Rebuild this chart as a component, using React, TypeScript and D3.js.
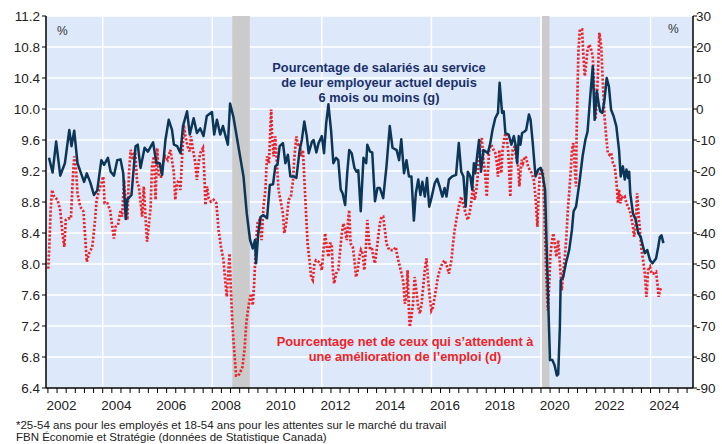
import React from "react";
import * as d3 from "d3";

// axis ticks / labels
const leftTicks = [6.4, 6.8, 7.2, 7.6, 8.0, 8.4, 8.8, 9.2, 9.6, 10.0, 10.4, 10.8, 11.2];
const rightTicks = [-90, -80, -70, -60, -50, -40, -30, -20, -10, 0, 10, 20, 30];
const yearLabels = [2002, 2004, 2006, 2008, 2010, 2012, 2014, 2016, 2018, 2020, 2022, 2024];
const gridYears = [2004, 2008, 2012, 2016, 2020, 2024];
const recessions: [number, number][] = [[2008.73, 2009.37], [2020.04, 2020.31]];

// % salariés au service de leur employeur depuis 6 mois ou moins (axe de gauche)
const tenure: [number, number][] = [
  [2002.04, 9.37], [2002.17, 9.18], [2002.3, 9.58], [2002.45, 9.14], [2002.62, 9.3], [2002.78, 9.73],
  [2002.86, 9.52], [2002.96, 9.72], [2003.08, 9.3], [2003.2, 9.18], [2003.32, 9.06], [2003.42, 9.17],
  [2003.55, 9.05], [2003.68, 8.89], [2003.8, 8.95], [2003.95, 9.34], [2004.05, 9.28], [2004.19, 9.37],
  [2004.29, 9.19], [2004.41, 9.14], [2004.53, 9.34], [2004.65, 9.35], [2004.75, 9.17], [2004.84, 8.58],
  [2004.9, 8.83], [2005.05, 8.89], [2005.2, 9.52], [2005.28, 9.54], [2005.38, 9.24], [2005.53, 9.5],
  [2005.65, 9.45], [2005.84, 9.57], [2005.96, 9.3], [2006.08, 9.3], [2006.17, 9.15], [2006.29, 9.6],
  [2006.41, 9.86], [2006.53, 9.73], [2006.6, 9.54], [2006.72, 9.52], [2006.84, 9.43], [2006.93, 9.78],
  [2007.08, 9.97], [2007.18, 9.67], [2007.32, 9.88], [2007.44, 9.69], [2007.56, 9.75], [2007.68, 9.65],
  [2007.8, 9.91], [2007.99, 9.96], [2008.07, 9.67], [2008.17, 9.86], [2008.29, 9.67], [2008.39, 9.78],
  [2008.47, 9.67], [2008.57, 9.54], [2008.65, 10.07], [2008.77, 9.9], [2009.14, 9.13], [2009.26, 8.65],
  [2009.38, 8.31], [2009.48, 8.2], [2009.56, 8.31], [2009.6, 8.01], [2009.68, 8.4], [2009.77, 8.61],
  [2009.87, 8.63], [2010.0, 8.59], [2010.1, 9.02], [2010.22, 9.03], [2010.3, 9.26], [2010.38, 9.28],
  [2010.46, 9.52], [2010.58, 9.56], [2010.67, 9.3], [2010.76, 9.41], [2010.85, 9.13], [2010.97, 9.13],
  [2011.07, 9.11], [2011.19, 9.47], [2011.27, 9.6], [2011.36, 9.84], [2011.45, 9.65], [2011.52, 9.43],
  [2011.64, 9.58], [2011.7, 9.6], [2011.8, 9.44], [2011.88, 9.56], [2012.0, 9.65], [2012.08, 9.43],
  [2012.16, 9.82], [2012.24, 10.06], [2012.34, 9.71], [2012.42, 9.3], [2012.52, 9.37], [2012.6, 9.34],
  [2012.69, 8.96], [2012.76, 8.91], [2012.85, 8.76], [2012.93, 9.19], [2013.0, 9.47], [2013.09, 9.43],
  [2013.19, 9.24], [2013.27, 9.19], [2013.33, 9.21], [2013.42, 8.68], [2013.52, 9.37], [2013.62, 9.3],
  [2013.66, 9.54], [2013.76, 9.45], [2013.84, 9.44], [2013.94, 8.81], [2014.03, 8.98], [2014.12, 8.98],
  [2014.24, 8.85], [2014.36, 9.26], [2014.48, 9.78], [2014.58, 9.5], [2014.73, 9.47], [2014.82, 9.34],
  [2014.9, 9.61], [2015.0, 9.17], [2015.09, 9.34], [2015.18, 9.13], [2015.27, 9.13], [2015.36, 8.56],
  [2015.43, 8.91], [2015.52, 9.09], [2015.6, 8.89], [2015.67, 9.06], [2015.76, 8.87], [2015.84, 9.11],
  [2015.92, 8.74], [2016.0, 8.85], [2016.12, 9.04], [2016.21, 9.1], [2016.3, 9.0], [2016.4, 8.87],
  [2016.48, 8.98], [2016.55, 8.87], [2016.64, 9.09], [2016.76, 9.13], [2016.9, 9.15], [2017.0, 9.56],
  [2017.09, 9.19], [2017.17, 9.13], [2017.25, 8.74], [2017.33, 9.19], [2017.42, 9.13], [2017.49, 8.96],
  [2017.55, 9.3], [2017.6, 9.17], [2017.68, 9.43], [2017.74, 9.6], [2017.81, 9.19], [2017.9, 9.47],
  [2017.99, 9.45], [2018.06, 9.43], [2018.15, 9.56], [2018.23, 9.73], [2018.33, 9.88], [2018.43, 9.95],
  [2018.49, 10.34], [2018.58, 9.95], [2018.64, 9.97], [2018.7, 9.69], [2018.82, 9.67], [2018.92, 9.54],
  [2019.01, 9.65], [2019.07, 9.54], [2019.13, 9.3], [2019.19, 9.65], [2019.25, 9.54], [2019.31, 9.69],
  [2019.4, 9.71], [2019.46, 9.73], [2019.56, 9.93], [2019.62, 9.86], [2019.7, 9.56], [2019.8, 9.13],
  [2019.9, 9.22], [2019.99, 9.24], [2020.05, 9.17], [2020.15, 8.96], [2020.21, 8.18], [2020.27, 7.45],
  [2020.33, 6.76], [2020.42, 6.76], [2020.5, 6.69], [2020.58, 6.56], [2020.63, 6.58], [2020.69, 7.19],
  [2020.72, 7.79], [2020.81, 7.83], [2020.91, 8.01], [2021.03, 8.18], [2021.13, 8.44], [2021.19, 8.68],
  [2021.28, 8.74], [2021.4, 9.04], [2021.52, 9.39], [2021.62, 9.6], [2021.7, 9.71], [2021.79, 10.12],
  [2021.89, 10.55], [2021.96, 9.86], [2022.04, 10.23], [2022.11, 10.06], [2022.16, 9.97], [2022.24, 9.95],
  [2022.32, 10.12], [2022.4, 10.4], [2022.48, 10.29], [2022.56, 9.99], [2022.65, 9.91], [2022.75, 9.78],
  [2022.85, 9.47], [2022.91, 9.13], [2022.99, 9.26], [2023.06, 9.09], [2023.12, 9.22], [2023.18, 9.11],
  [2023.22, 9.19], [2023.26, 8.91], [2023.36, 8.65], [2023.46, 8.57], [2023.55, 8.4], [2023.64, 8.35],
  [2023.73, 8.22], [2023.79, 8.14], [2023.88, 8.18], [2023.98, 8.05], [2024.07, 8.01], [2024.2, 8.07],
  [2024.28, 8.22], [2024.34, 8.35], [2024.4, 8.37], [2024.47, 8.27],
];

// % net qui s'attendent à une amélioration de l'emploi (axe de droite)
const outlook: [number, number][] = [
  [2002.01, -51.5], [2002.05, -44.5], [2002.1, -32.6], [2002.15, -26.1], [2002.23, -28.3], [2002.35, -29.3],
  [2002.45, -32.6], [2002.53, -40.1], [2002.6, -44.5], [2002.65, -35.8], [2002.74, -35.3], [2002.84, -35.3],
  [2002.9, -24], [2002.96, -15.3], [2003.02, -18.6], [2003.08, -27.2], [2003.18, -31.5], [2003.3, -33.1],
  [2003.35, -40.1], [2003.42, -49.3], [2003.5, -46.6], [2003.62, -44.5], [2003.71, -36.9], [2003.78, -29.3],
  [2003.87, -26.1], [2003.95, -24], [2004.02, -21.8], [2004.07, -30.4], [2004.17, -30.4], [2004.27, -32.6],
  [2004.35, -38], [2004.41, -41.8], [2004.47, -38], [2004.56, -37.4], [2004.65, -32.6], [2004.71, -34.7],
  [2004.78, -22.9], [2004.84, -30.4], [2004.9, -35.8], [2004.96, -20.7], [2005.02, -13.2], [2005.11, -16.4],
  [2005.18, -13.2], [2005.26, -24], [2005.32, -25], [2005.38, -29.9], [2005.44, -34.7], [2005.5, -25],
  [2005.56, -34.7], [2005.62, -42.8], [2005.68, -38], [2005.75, -31.5], [2005.8, -18.6], [2005.87, -15.3],
  [2005.93, -29.3], [2005.99, -12.6], [2006.05, -21.8], [2006.13, -21.8], [2006.2, -17.5], [2006.28, -15.3],
  [2006.37, -16.4], [2006.47, -13.2], [2006.53, -16.4], [2006.6, -20.7], [2006.65, -29.3], [2006.71, -24],
  [2006.78, -22.9], [2006.84, -26.1], [2006.9, -15.3], [2006.96, -5.1], [2007.02, -8.8], [2007.1, -12.1],
  [2007.18, -13.7], [2007.22, -8.8], [2007.3, -13.2], [2007.38, -17.5], [2007.44, -22.9], [2007.5, -17.5],
  [2007.56, -14.2], [2007.66, -12.6], [2007.71, -20.7], [2007.75, -31], [2007.81, -25], [2007.87, -28.8],
  [2007.95, -29.9], [2008.05, -29.3], [2008.15, -30.4], [2008.23, -39], [2008.32, -44.5], [2008.41, -48.8],
  [2008.47, -55.2], [2008.53, -60.6], [2008.59, -52], [2008.63, -46.6], [2008.68, -58.5], [2008.74, -70.3],
  [2008.8, -77.9], [2008.87, -86], [2008.96, -86], [2009.02, -84.9], [2009.1, -83.3], [2009.18, -77.4],
  [2009.24, -69.3], [2009.3, -65], [2009.36, -61.7], [2009.41, -59.6], [2009.48, -63.3], [2009.53, -56.3],
  [2009.59, -44.5], [2009.65, -36.9], [2009.72, -35.8], [2009.8, -42.3], [2009.87, -31.5], [2009.94, -26.1],
  [2010.0, -15.3], [2010.07, -17.5], [2010.15, -0.2], [2010.18, -7.8], [2010.24, -15.3], [2010.3, -8.8],
  [2010.36, -17.5], [2010.42, -26.1], [2010.51, -30.4], [2010.58, -33.7], [2010.63, -40.1], [2010.7, -36.9],
  [2010.79, -29.3], [2010.87, -28.3], [2010.95, -22.9], [2011.0, -15.3], [2011.07, -8.8], [2011.13, -12.1],
  [2011.19, -11], [2011.25, -15.3], [2011.31, -13.2], [2011.37, -24], [2011.43, -34.7], [2011.48, -43.4],
  [2011.55, -48.8], [2011.61, -54.2], [2011.67, -55.2], [2011.73, -49.8], [2011.79, -48.8], [2011.88, -49.3],
  [2011.94, -49.8], [2012.0, -52], [2012.06, -45.5], [2012.12, -40.1], [2012.18, -44.5], [2012.24, -47.7],
  [2012.3, -43.4], [2012.36, -43.4], [2012.4, -52], [2012.45, -56.3], [2012.52, -53.1], [2012.6, -52],
  [2012.67, -45.5], [2012.73, -40.1], [2012.79, -36.9], [2012.85, -39], [2012.91, -42.3], [2012.97, -34.7],
  [2013.0, -32.6], [2013.05, -43.4], [2013.13, -44.5], [2013.19, -48.8], [2013.25, -54.2], [2013.31, -52],
  [2013.37, -47.7], [2013.43, -45.5], [2013.49, -46.6], [2013.55, -52], [2013.61, -44.5], [2013.66, -35.8],
  [2013.71, -41.2], [2013.76, -45.5], [2013.82, -44.5], [2013.88, -47.7], [2013.94, -49.8], [2014.0, -45.5],
  [2014.06, -41.2], [2014.12, -36.9], [2014.18, -34.7], [2014.24, -34.7], [2014.3, -39], [2014.36, -43.4],
  [2014.46, -45.5], [2014.55, -45.5], [2014.63, -45.5], [2014.7, -44.5], [2014.76, -47.7], [2014.82, -49.8],
  [2014.88, -52], [2014.94, -54.2], [2014.98, -56.3], [2015.03, -62.8], [2015.09, -60.6], [2015.13, -52],
  [2015.18, -65], [2015.21, -70.3], [2015.27, -67.1], [2015.33, -62.8], [2015.39, -54.2], [2015.45, -58.5],
  [2015.52, -63.9], [2015.58, -66], [2015.64, -62.8], [2015.7, -57.4], [2015.76, -52], [2015.82, -48.2],
  [2015.88, -55.2], [2015.94, -60.6], [2016.0, -65], [2016.06, -63.9], [2016.16, -58.5], [2016.24, -54.2],
  [2016.3, -52], [2016.4, -49.8], [2016.48, -48.8], [2016.57, -50.9], [2016.64, -53.1], [2016.73, -48.8],
  [2016.79, -43.4], [2016.85, -39], [2016.93, -34.7], [2017.0, -31.5], [2017.09, -28.3], [2017.17, -31],
  [2017.25, -33.7], [2017.33, -35.8], [2017.39, -33.7], [2017.45, -30.4], [2017.52, -25], [2017.58, -29.3],
  [2017.64, -26.1], [2017.7, -20.7], [2017.72, -17.5], [2017.78, -11], [2017.84, -9.4], [2017.9, -16.4],
  [2017.96, -20.7], [2018.02, -28.3], [2018.06, -20.7], [2018.11, -13.2], [2018.18, -11.5], [2018.27, -13.2],
  [2018.33, -14.2], [2018.39, -17.5], [2018.43, -21.8], [2018.48, -13.2], [2018.55, -20.7], [2018.6, -13.2],
  [2018.67, -8.8], [2018.72, -7.8], [2018.8, -13.2], [2018.85, -21.8], [2018.88, -28.3], [2018.92, -17.5],
  [2018.97, -13.2], [2019.04, -12.1], [2019.09, -15.3], [2019.17, -18.6], [2019.21, -25], [2019.29, -16.4],
  [2019.34, -17.5], [2019.41, -15.3], [2019.46, -15.8], [2019.53, -18.6], [2019.59, -19.6], [2019.66, -20.7],
  [2019.74, -22.9], [2019.8, -28.3], [2019.87, -38], [2019.9, -30.4], [2019.96, -20.7], [2020.02, -19.1],
  [2020.07, -20.7], [2020.11, -28.3], [2020.15, -41.2], [2020.2, -55.2], [2020.25, -65], [2020.29, -58.5],
  [2020.34, -47.7], [2020.39, -43.4], [2020.45, -40.1], [2020.52, -44.5], [2020.56, -47.7], [2020.63, -42.3],
  [2020.69, -49.8], [2020.76, -58.5], [2020.81, -53.1], [2020.87, -47.7], [2020.93, -41.2], [2020.98, -32.6],
  [2021.03, -27.2], [2021.08, -20.7], [2021.13, -13.2], [2021.18, -11], [2021.23, -18.6], [2021.28, -25],
  [2021.3, -8.8], [2021.34, 8.4], [2021.37, 19.2], [2021.42, 25.7], [2021.5, 25.7], [2021.55, 17.1],
  [2021.6, 10.6], [2021.64, 13.8], [2021.7, 19.2], [2021.77, 20.8], [2021.83, 19.2], [2021.89, 17.1],
  [2021.95, 5.2], [2021.99, -3.4], [2022.04, 3], [2022.09, 13.8], [2022.13, 24.6], [2022.2, 20.3],
  [2022.26, 8.4], [2022.32, -2.4], [2022.38, -8.8], [2022.44, -14.2], [2022.5, -14.8], [2022.56, -14.2],
  [2022.63, -17.5], [2022.69, -18.6], [2022.75, -22.9], [2022.81, -30.4], [2022.85, -26.1], [2022.9, -30.4],
  [2022.94, -28.3], [2023.0, -28.8], [2023.06, -28.3], [2023.12, -30.4], [2023.18, -31.5], [2023.24, -32.6],
  [2023.29, -34.7], [2023.36, -38], [2023.4, -41.2], [2023.46, -36.9], [2023.51, -27.2], [2023.56, -33.7],
  [2023.61, -39], [2023.67, -45.5], [2023.73, -48.8], [2023.79, -53.1], [2023.85, -60.6], [2023.91, -52],
  [2023.98, -50.9], [2024.04, -53.1], [2024.1, -53.1], [2024.2, -52.5], [2024.25, -56.3], [2024.3, -60.6],
  [2024.34, -58.5], [2024.42, -57.4],
];

const W = 722;
const H = 444;
const margin = { top: 16, right: 29, bottom: 56, left: 46 };
const font = "'Liberation Sans', Arial, sans-serif";
const NAVY = "#0c3658";
const RED = "#ee2229";

export default function App() {
  const x = d3.scaleLinear().domain([2001.93, 2025.55]).range([margin.left, W - margin.right]);
  const yL = d3.scaleLinear().domain([6.4, 11.2]).range([H - margin.bottom, margin.top]);
  const yR = d3.scaleLinear().domain([-90, 30]).range([H - margin.bottom, margin.top]);

  const lineL = d3.line<[number, number]>().x(d => x(d[0])).y(d => yL(d[1]));
  const lineR = d3.line<[number, number]>().x(d => x(d[0])).y(d => yR(d[1]));

  const x0 = margin.left, x1 = W - margin.right;
  const y0 = margin.top, y1 = H - margin.bottom;
  // petites graduations tous les 4 mois
  const minorTicks = d3.range(2002, 2025.5, 1 / 3);

  return (
    <svg width={W} height={H} style={{ position: "absolute", left: 0, top: 0, background: "#fff" }}
      fontFamily={font}>
      <rect x={x0} y={y0} width={x1 - x0} height={y1 - y0} fill="#dde9fa" />
      {leftTicks.map(t => (
        <line key={"h" + t} x1={x0} x2={x1} y1={yL(t)} y2={yL(t)} stroke="#fff" strokeWidth={1.5} />
      ))}
      {gridYears.map(t => (
        <line key={"v" + t} x1={x(t)} x2={x(t)} y1={y0} y2={y1} stroke="#fff" strokeWidth={1.5} />
      ))}
      {recessions.map(([a, b]) => (
        <rect key={a} x={x(a)} y={y0} width={x(b) - x(a)} height={y1 - y0} fill="#cbcbcb" />
      ))}

      <path d={lineR(outlook) || ""} fill="none" stroke={RED} strokeWidth={2.7}
        strokeDasharray="2.2,1.8" />
      <path d={lineL(tenure) || ""} fill="none" stroke={NAVY} strokeWidth={2.5}
        strokeLinejoin="round" />

      {/* axes */}
      <line x1={x0} x2={x0} y1={y0} y2={y1} stroke="#000" strokeWidth={1.5} />
      <line x1={x1} x2={x1} y1={y0} y2={y1} stroke="#000" strokeWidth={1.5} />
      <line x1={x0} x2={x1} y1={y1} y2={y1} stroke="#000" strokeWidth={1.5} />
      {leftTicks.map(t => (
        <g key={"l" + t}>
          <line x1={x0 - 4} x2={x0} y1={yL(t)} y2={yL(t)} stroke="#000" />
          <text x={x0 - 6} y={yL(t)} dy="0.35em" textAnchor="end" fontSize={13.5} fill="#222">
            {t.toFixed(1)}
          </text>
        </g>
      ))}
      {rightTicks.map(t => (
        <g key={"r" + t}>
          <line x1={x1} x2={x1 + 4} y1={yR(t)} y2={yR(t)} stroke="#000" />
          <text x={x1 + 3} y={yR(t)} dy="0.35em" textAnchor="start" fontSize={13.5} fill="#222">
            {t}
          </text>
        </g>
      ))}
      {minorTicks.map(t => (
        <line key={"m" + t} x1={x(t)} x2={x(t)} y1={y1} y2={y1 + 5} stroke="#000" />
      ))}
      {yearLabels.map(t => (
        <text key={"y" + t} x={x(t + 0.5)} y={y1 + 22} textAnchor="middle" fontSize={13.5} fill="#222">
          {t}
        </text>
      ))}

      <text x={57} y={35} fontSize={12} fill="#333">%</text>
      <text x={668} y={33} fontSize={12} fill="#333">%</text>

      <text textAnchor="middle" fontSize={12.8} fontWeight="bold" fill="#1a2f6b">
        <tspan x={379} y={72}>Pourcentage de salariés au service</tspan>
        <tspan x={379} y={87}>de leur employeur actuel depuis</tspan>
        <tspan x={379} y={102}>6 mois ou moins (g)</tspan>
      </text>
      <text textAnchor="middle" fontSize={12.8} fontWeight="bold" fill={RED}>
        <tspan x={405} y={346}>Pourcentage net de ceux qui s’attendent à</tspan>
        <tspan x={405} y={361}>une amélioration de l’emploi (d)</tspan>
      </text>

      <text x={16} y={429} fontSize={11.5} fill="#222">
        *25-54 ans pour les employés et 18-54 ans pour les attentes sur le marché du travail
      </text>
      <text x={16} y={441} fontSize={11.5} fill="#222">
        FBN Économie et Stratégie (données de Statistique Canada)
      </text>
    </svg>
  );
}
